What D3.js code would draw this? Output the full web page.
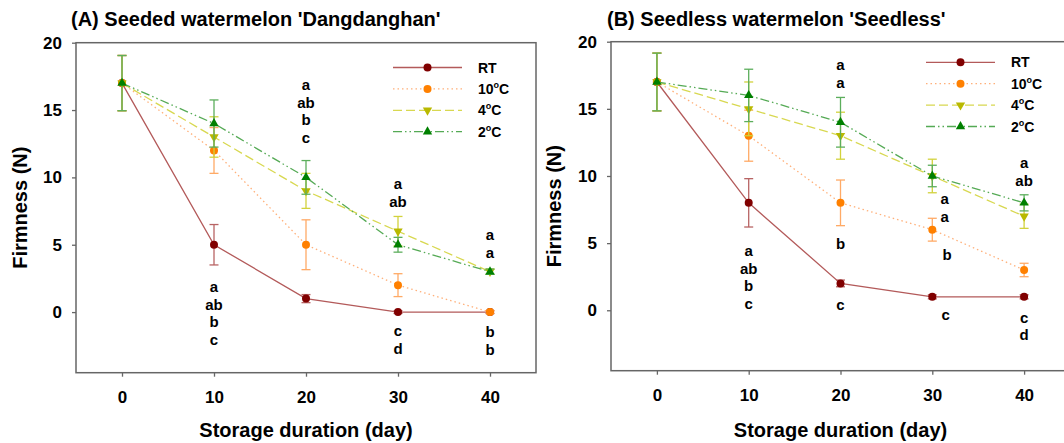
<!DOCTYPE html>
<html>
<head>
<meta charset="utf-8">
<style>
  body { margin: 0; background: #fff; }
  svg { font-family: Arial, "Liberation Sans", sans-serif; font-weight: bold; }
</style>
</head>
<body>
<script src="https://d3js.org/d3.v7.min.js"></script>
<script>
// storage days
var days = [0, 10, 20, 30, 40];
var treatments = ["RT", "10", "4", "2"];
var xTicks = [0, 10, 20, 30, 40];
var yTicks = [0, 5, 10, 15, 20];

// (A) seeded 'Dangdanghan' - firmness (N) and error
var seededMean = {
  RT: [17, 5, 1, 0, 0],
  "10": [17, 12, 5, 2, 0],
  "4": [17, 13, 9, 6, 3],
  "2": [17, 14, 10, 5, 3]
};
var seededErr = {
  RT: [2.05, 1.5, 0.3, 0.1, 0.1],
  "10": [2.05, 1.7, 1.85, 0.85, 0.1],
  "4": [2.05, 1.5, 1.3, 1.1, 0.2],
  "2": [2.05, 1.75, 1.25, 0.55, 0.2]
};
// (B) seedless
var seedlessMean = {
  RT: [17, 8, 2, 1, 1],
  "10": [17, 13, 8, 6, 3],
  "4": [17, 15, 13, 10, 7],
  "2": [17, 16, 14, 10, 8]
};
var seedlessErr = {
  RT: [2.15, 1.8, 0.25, 0.15, 0.15],
  "10": [2.15, 1.9, 1.7, 0.85, 0.5],
  "4": [2.15, 2, 1.75, 1.25, 0.9],
  "2": [2.15, 1.95, 1.85, 0.8, 0.6]
};

// significance letters: day, firmness level of first letter, letters, nudge in days
var seededLetters = [
  {day: 10, at: 1.86, text: ["a", "ab", "b", "c"], shift: 0},
  {day: 20, at: 16.86, text: ["a", "ab", "b", "c"], shift: 0},
  {day: 30, at: 9.5, text: ["a", "ab"], shift: 0},
  {day: 30, at: -1.41, text: ["c", "d"], shift: 0},
  {day: 40, at: 5.7, text: ["a", "a"], shift: 0},
  {day: 40, at: -1.5, text: ["b", "b"], shift: 0}
];
var seedlessLetters = [
  {day: 10, at: 4.42, text: ["a", "ab", "b", "c"], shift: 0},
  {day: 20, at: 18.26, text: ["a", "a"], shift: 0},
  {day: 20, at: 4.97, text: ["b"], shift: 0},
  {day: 20, at: 0.37, text: ["c"], shift: 0},
  {day: 30, at: 8.25, text: ["a", "a"], shift: 1.35},
  {day: 30, at: 4.1, text: ["b"], shift: 1.6},
  {day: 30, at: -0.32, text: ["c"], shift: 1.45},
  {day: 40, at: 10.93, text: ["a", "ab"], shift: 0},
  {day: 40, at: -0.54, text: ["c", "d"], shift: 0}
];

var style = {
  RT:   {line: "#b35a5a", bar: "#b86464", mark: "#800000", dash: null, shape: "circle", label: "RT"},
  "10": {line: "#ffb07a", bar: "#ffaa66", mark: "#ff8000", dash: "1.5,3", shape: "circle", label: "10"},
  "4":  {line: "#d8d850", bar: "#d2d23c", mark: "#b9b900", dash: "9,4", shape: "down", label: "4"},
  "2":  {line: "#55aa55", bar: "#5cae5c", mark: "#008000", dash: "9,3,1.5,3,1.5,3", shape: "up", label: "2"}
};

var svg = d3.select("body").append("svg")
  .attr("width", 1064)
  .attr("height", 443);

svg.append("rect").attr("width", 1064).attr("height", 443).attr("fill", "#fff");

function marker(sel, s) {
  if (s.shape == "circle") {
    sel.append("circle").attr("r", 4).attr("fill", s.mark);
  } else {
    sel.append("path")
      .attr("d", d3.symbol().type(d3.symbolTriangle).size(38)())
      .attr("transform", s.shape == "down" ? "rotate(180)" : null)
      .attr("fill", s.mark);
  }
}

function drawPanel(opt) {
  var x = d3.scaleLinear().domain([-5, 45]).range([opt.left, opt.right]);
  var y = d3.scaleLinear().domain([-4.5, 20]).range([opt.bottom, opt.top]);

  var xAxis = svg.append("g")
    .attr("transform", "translate(0," + opt.bottom + ")")
    .call(d3.axisBottom(x).tickValues(xTicks).tickSize(4).tickPadding(14).tickSizeOuter(0));
  var yAxis = svg.append("g")
    .attr("transform", "translate(" + opt.left + ",0)")
    .call(d3.axisLeft(y).tickValues(yTicks).tickSize(4).tickPadding(10).tickSizeOuter(0));
  [xAxis, yAxis].forEach(function(a) {
    a.select(".domain").remove();
    a.selectAll("line").attr("stroke", "#666").attr("stroke-width", 1.3);
    a.selectAll("text").attr("font-size", 17).attr("font-weight", "bold").attr("fill", "#000")
      .attr("font-family", "Arial, 'Liberation Sans', sans-serif");
  });

  svg.append("rect")
    .attr("x", opt.left).attr("y", opt.top)
    .attr("width", opt.right - opt.left).attr("height", opt.bottom - opt.top)
    .attr("fill", "none").attr("stroke", "#666").attr("stroke-width", 1.5);

  svg.append("text")
    .attr("x", opt.titleX).attr("y", 26)
    .attr("font-size", 20)
    .text(opt.title);

  svg.append("text")
    .attr("transform", "translate(" + opt.yLabelX + "," + (opt.top + opt.bottom) / 2 + ") rotate(-90)")
    .attr("text-anchor", "middle")
    .attr("dy", "0.35em")
    .attr("font-size", 20)
    .text("Firmness (N)");

  svg.append("text")
    .attr("x", (opt.left + opt.right) / 2).attr("y", 437)
    .attr("text-anchor", "middle")
    .attr("font-size", 20)
    .text("Storage duration (day)");

  var line = d3.line().x(function(d) { return x(d[0]); }).y(function(d) { return y(d[1]); });

  treatments.forEach(function(t) {
    var s = style[t];
    var pts = days.map(function(d, i) { return [d, opt.mean[t][i], opt.err[t][i]]; });

    svg.append("path")
      .attr("d", line(pts))
      .attr("fill", "none")
      .attr("stroke", s.line)
      .attr("stroke-width", 1.3)
      .attr("stroke-dasharray", s.dash);

    var eb = svg.append("g").attr("stroke", s.bar).attr("stroke-width", 1.3);
    pts.forEach(function(p) {
      var cx = x(p[0]), y1 = y(p[1] + p[2]), y2 = y(p[1] - p[2]);
      eb.append("line").attr("x1", cx).attr("x2", cx).attr("y1", y1).attr("y2", y2);
      eb.append("line").attr("x1", cx - 4.5).attr("x2", cx + 4.5).attr("y1", y1).attr("y2", y1);
      eb.append("line").attr("x1", cx - 4.5).attr("x2", cx + 4.5).attr("y1", y2).attr("y2", y2);
    });

    pts.forEach(function(p) {
      var g = svg.append("g").attr("transform", "translate(" + x(p[0]) + "," + y(p[1]) + ")");
      marker(g, s);
    });
  });

  // letters
  opt.letters.forEach(function(l) {
    l.text.forEach(function(txt, i) {
      svg.append("text")
        .attr("x", x(l.day + l.shift))
        .attr("y", y(l.at) + i * 17.7 + 5)
        .attr("text-anchor", "middle")
        .attr("font-size", 15)
        .text(txt);
    });
  });

  // legend
  treatments.forEach(function(t, i) {
    var s = style[t];
    var ly = opt.legendY + i * 21.4;
    svg.append("line")
      .attr("x1", opt.legendX).attr("x2", opt.legendX + 69)
      .attr("y1", ly).attr("y2", ly)
      .attr("stroke", s.line).attr("stroke-width", 1.3)
      .attr("stroke-dasharray", s.dash);
    var g = svg.append("g").attr("transform", "translate(" + (opt.legendX + 34.5) + "," + ly + ")");
    marker(g, s);
    var tx = svg.append("text")
      .attr("x", opt.legendX + 85).attr("y", ly + 5)
      .attr("font-size", 14);
    tx.append("tspan").text(s.label);
    if (t != "RT") {
      tx.append("tspan").attr("font-size", 9).attr("dy", -6).text("o");
      tx.append("tspan").attr("dy", 6).text("C");
    }
  });
}

drawPanel({
  left: 76, right: 536, top: 42.7, bottom: 372.7,
  title: "(A) Seeded watermelon 'Dangdanghan'", titleX: 71,
  yLabelX: 20, legendX: 393, legendY: 67.5,
  mean: seededMean, err: seededErr, letters: seededLetters
});

drawPanel({
  left: 611, right: 1070, top: 41.7, bottom: 370.7,
  title: "(B) Seedless watermelon 'Seedless'", titleX: 607,
  yLabelX: 554, legendX: 926, legendY: 62.3,
  mean: seedlessMean, err: seedlessErr, letters: seedlessLetters
});
</script>
</body>
</html>
